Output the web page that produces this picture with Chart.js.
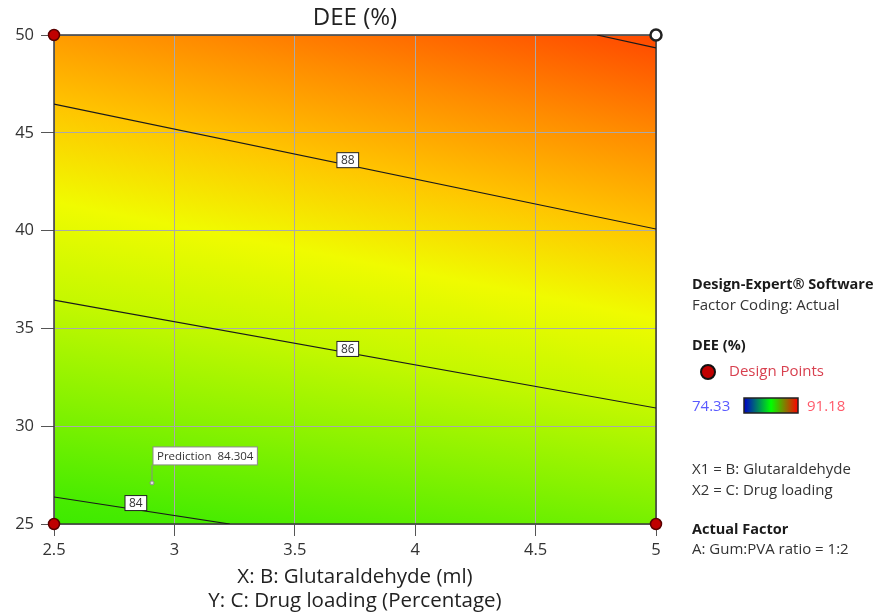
<!DOCTYPE html>
<html lang="en">
<head>
  <meta charset="UTF-8" />
  <title>DEE (%) contour</title>
  <script src="https://cdn.jsdelivr.net/npm/chart.js"></script>
  <style>
    html, body { margin: 0; padding: 0; background: #fff; }
    #wrap { width: 881px; height: 614px; }
  </style>
</head>
<body>
  <div id="wrap"><canvas id="contour" width="881" height="614"></canvas></div>

  <script>
    // axis ticks
    const xTicks = [2.5, 3, 3.5, 4, 4.5, 5];
    const yTicks = [25, 30, 35, 40, 45, 50];

    // contour lines (x = glutaraldehyde, y = drug loading)
    const contourLevels = [84, 86, 88, 90];
    const line84 = [{ x: 2.5, y: 26.38 }, { x: 3.23, y: 25 }];
    const line86 = [{ x: 2.5, y: 36.45 }, { x: 5, y: 30.93 }];
    const line88 = [{ x: 2.5, y: 46.47 }, { x: 5, y: 40.08 }];
    const line90 = [{ x: 4.755, y: 50 }, { x: 5, y: 49.34 }];
    const labelPos = [{ x: 2.84, y: 26.07 }, { x: 3.72, y: 33.95 }, { x: 3.72, y: 43.6 }];
    const labelText = ['84', '86', '88'];

    // design points + prediction flag
    const designPoints = [{ x: 2.5, y: 50 }, { x: 2.5, y: 25 }, { x: 5, y: 25 }];
    const openPoint = [{ x: 5, y: 50 }];
    const prediction = [{ x: 2.907, y: 27.1 }];
    const predictionValue = 84.304;

    // colour ramp used for the response surface
    const rampValues = [83, 84, 85, 86, 87, 88, 89, 90, 91];
    const rampColors = ['#22e400', '#48ec00', '#88f200', '#c4f800', '#f0fb00',
                        '#ffc400', '#ff8c00', '#ff5000', '#ff3000'];

    const contourLines = [line84, line86, line88, line90];
    const FONT = '"Open Sans", sans-serif';

    function lineYAt(pts, x) {
      const a = pts[0], b = pts[1];
      return a.y + (b.y - a.y) * (x - a.x) / (b.x - a.x);
    }

    // paints the surface column by column, stretching colours between contour lines
    const surface = {
      id: 'surface',
      beforeDraw(chart) {
        const { ctx, chartArea: ca, scales } = chart;
        ctx.save();
        for (let px = ca.left; px < ca.right; px += 2) {
          const dx = scales.x.getValueForPixel(px + 1);
          const ys = contourLines.map(l => scales.y.getPixelForValue(lineYAt(l, dx)));
          const stopY = rampValues.map(v => {
            let i = 0;
            while (i < contourLevels.length - 2 && v > contourLevels[i + 1]) i++;
            const t = (v - contourLevels[i]) / (contourLevels[i + 1] - contourLevels[i]);
            return ys[i] + (ys[i + 1] - ys[i]) * t;
          });
          const y0 = Math.min(...stopY), y1 = Math.max(...stopY);
          const g = ctx.createLinearGradient(0, y0, 0, y1);
          stopY.forEach((y, k) => g.addColorStop((y - y0) / (y1 - y0), rampColors[k]));
          ctx.fillStyle = g;
          ctx.fillRect(px, ca.top, Math.min(2, ca.right - px), ca.bottom - ca.top);
        }
        ctx.restore();
      },
      beforeDatasetsDraw(chart) {
        const { ctx, chartArea: ca } = chart;
        ctx.save();
        ctx.strokeStyle = '#3a3a3a';
        ctx.lineWidth = 1.5;
        ctx.strokeRect(ca.left, ca.top, ca.right - ca.left, ca.bottom - ca.top);
        ctx.restore();
      },
      afterDatasetsDraw(chart) {
        const { ctx, scales } = chart;
        ctx.save();
        // contour labels
        ctx.font = '12px ' + FONT;
        ctx.textAlign = 'center';
        ctx.textBaseline = 'middle';
        labelPos.forEach((p, i) => {
          const cx = scales.x.getPixelForValue(p.x), cy = scales.y.getPixelForValue(p.y);
          const w = ctx.measureText(labelText[i]).width + 8, h = 15;
          ctx.fillStyle = '#fff';
          ctx.fillRect(cx - w / 2, cy - h / 2, w, h);
          ctx.strokeStyle = '#222';
          ctx.lineWidth = 1;
          ctx.strokeRect(cx - w / 2, cy - h / 2, w, h);
          ctx.fillStyle = '#333';
          ctx.fillText(labelText[i], cx, cy + 0.5);
        });
        // prediction flag
        const px = scales.x.getPixelForValue(prediction[0].x);
        const py = scales.y.getPixelForValue(prediction[0].y);
        ctx.strokeStyle = '#8a8a8a';
        ctx.lineWidth = 1;
        ctx.beginPath();
        ctx.moveTo(px, py - 2);
        ctx.lineTo(px, py - 18);
        ctx.stroke();
        ctx.beginPath();
        ctx.arc(px, py, 2, 0, Math.PI * 2);
        ctx.fillStyle = '#ddd';
        ctx.fill();
        ctx.stroke();
        ctx.font = '11.5px ' + FONT;
        const txt = 'Prediction  ' + predictionValue.toFixed(3);
        const tw = ctx.measureText(txt).width + 8;
        const bx = px + 1, by = py - 36;
        ctx.fillStyle = '#fff';
        ctx.fillRect(bx, by, tw, 18);
        ctx.strokeStyle = '#8a8a8a';
        ctx.strokeRect(bx, by, tw, 18);
        ctx.fillStyle = '#333';
        ctx.textAlign = 'left';
        ctx.fillText(txt, bx + 4, by + 9.5);
        ctx.restore();
      },
      afterDraw(chart) {
        const { ctx, chartArea: ca } = chart;
        ctx.save();
        const mid = (ca.left + ca.right) / 2;
        ctx.textAlign = 'center';
        ctx.textBaseline = 'middle';
        ctx.fillStyle = '#222';
        ctx.font = '24px ' + FONT;
        ctx.fillText('DEE (%)', mid, 18);
        ctx.font = '20.5px ' + FONT;
        ctx.fillText('X: B: Glutaraldehyde (ml)', mid, 577);
        ctx.fillText('Y: C: Drug loading (Percentage)', mid, 601);

        // side panel
        const lx = 692;
        ctx.textAlign = 'left';
        ctx.font = 'bold 14.5px ' + FONT;
        ctx.fillStyle = '#1a1a1a';
        ctx.fillText('Design-Expert\u00AE Software', lx, 285);
        ctx.font = '15px ' + FONT;
        ctx.fillStyle = '#333';
        ctx.fillText('Factor Coding: Actual', lx, 306);
        ctx.font = 'bold 14.5px ' + FONT;
        ctx.fillStyle = '#1a1a1a';
        ctx.fillText('DEE (%)', lx, 346);

        ctx.beginPath();
        ctx.arc(708, 372, 7, 0, Math.PI * 2);
        ctx.fillStyle = '#c00000';
        ctx.fill();
        ctx.lineWidth = 2;
        ctx.strokeStyle = '#111';
        ctx.stroke();
        ctx.font = '15px ' + FONT;
        ctx.fillStyle = '#d8404f';
        ctx.fillText('Design Points', 729, 372);

        ctx.fillStyle = '#5a5aff';
        ctx.fillText('74.33', lx, 407);
        const g = ctx.createLinearGradient(744, 0, 798, 0);
        g.addColorStop(0, '#0000c8');
        g.addColorStop(0.5, '#00ff00');
        g.addColorStop(1, '#ff0000');
        ctx.fillStyle = g;
        ctx.fillRect(744, 398, 54, 15);
        ctx.lineWidth = 1.5;
        ctx.strokeStyle = '#222';
        ctx.strokeRect(744, 398, 54, 15);
        ctx.fillStyle = '#ff5a6a';
        ctx.fillText('91.18', 807, 407);

        ctx.fillStyle = '#333';
        ctx.fillText('X1 = B: Glutaraldehyde', lx, 470);
        ctx.fillText('X2 = C: Drug loading', lx, 491);
        ctx.font = 'bold 14.5px ' + FONT;
        ctx.fillStyle = '#1a1a1a';
        ctx.fillText('Actual Factor', lx, 530);
        ctx.font = '15px ' + FONT;
        ctx.fillStyle = '#333';
        ctx.fillText('A: Gum:PVA ratio = 1:2', lx, 550);
        ctx.restore();
      }
    };

    const lineStyle = { type: 'line', showLine: true, borderColor: '#1a1a1a', borderWidth: 1.2,
                        pointRadius: 0, fill: false, tension: 0 };
    const tickFont = { family: 'Open Sans', size: 16.5 };

    new Chart(document.getElementById('contour'), {
      type: 'scatter',
      data: {
        datasets: [
          { ...lineStyle, data: line84 },
          { ...lineStyle, data: line86 },
          { ...lineStyle, data: line88 },
          { ...lineStyle, data: line90 },
          { data: designPoints, pointRadius: 5.5, backgroundColor: '#c00000',
            borderColor: '#5a0000', borderWidth: 1.5, clip: false },
          { data: openPoint, pointRadius: 5.5, backgroundColor: '#ffffff',
            borderColor: '#222', borderWidth: 2.5, clip: false }
        ]
      },
      options: {
        responsive: false,
        animation: false,
        events: [],
        layout: { padding: { top: 35, right: 225, left: 0, bottom: 0 } },
        plugins: { legend: { display: false }, tooltip: { enabled: false } },
        scales: {
          x: {
            type: 'linear', min: 2.5, max: 5,
            afterBuildTicks: s => { s.ticks = xTicks.map(v => ({ value: v })); },
            afterFit: s => { s.height = 90; },
            grid: { color: '#a9a9a9', lineWidth: 1, tickLength: 12, tickColor: '#555' },
            border: { display: false },
            ticks: { color: '#333', padding: 4, font: tickFont, callback: v => String(v) }
          },
          y: {
            type: 'linear', min: 25, max: 50,
            afterBuildTicks: s => { s.ticks = yTicks.map(v => ({ value: v })); },
            afterFit: s => { s.width = 54; },
            grid: { color: '#a9a9a9', lineWidth: 1, tickLength: 13, tickColor: '#555' },
            border: { display: false },
            ticks: { color: '#333', padding: 7, font: tickFont, callback: v => String(v) }
          }
        }
      },
      plugins: [surface]
    });
  </script>
</body>
</html>
